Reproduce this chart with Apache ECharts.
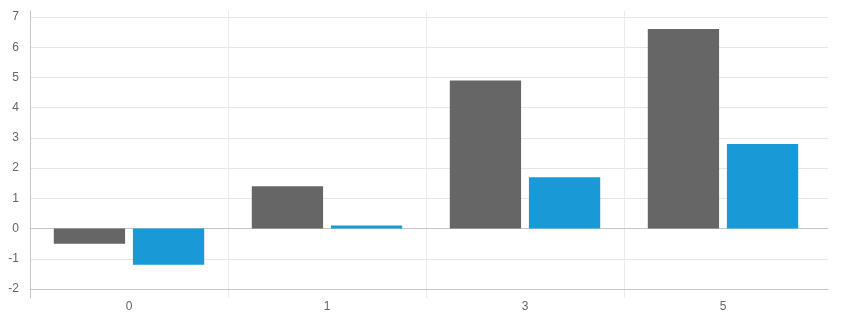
<!DOCTYPE html>
<html>
<head>
<meta charset="utf-8">
<script src="https://cdn.jsdelivr.net/npm/echarts@6/dist/echarts.min.js"></script>
<style>html,body{margin:0;padding:0;background:#fff}#c{width:842px;height:321px}</style>
</head>
<body>
<div id="c"></div>
<script>
var categories = ['0', '1', '3', '5'];
var seriesA = [-0.5, 1.4, 4.9, 6.6];
var seriesB = [-1.2, 0.1, 1.7, 2.8];
var yTicks = [-2, -1, 0, 1, 2, 3, 4, 5, 6, 7];

var yMin = yTicks[0], yMax = yTicks[yTicks.length - 1];
// grid geometry (pixels)
var G1 = { left: 30, right: 14, top: 17, bottom: 32 };
var extTop = 6, extBottom = 9;
var plotH = 321 - G1.top - G1.bottom;
var pxPerUnit = plotH / (yMax - yMin);

var chart = echarts.init(document.getElementById('c'));
var font = 'Liberation Sans, Arial, Helvetica, sans-serif';
var axisDark = '#c6c6c6';
var gridLight = '#e6e6e6';

chart.setOption({
  animation: false,
  grid: [
    { left: G1.left, right: G1.right, top: G1.top, bottom: G1.bottom },
    { left: G1.left, right: 20, top: G1.top - extTop, bottom: G1.bottom - extBottom }
  ],
  xAxis: [{
    gridIndex: 0, type: 'value', position: 'top',
    axisLine: { show: true, onZero: true, lineStyle: { color: axisDark } },
    axisTick: { show: false }, axisLabel: { show: false }, splitLine: { show: false }
  }, {
    gridIndex: 0, type: 'value', position: 'bottom',
    axisLine: { show: true, onZero: false, lineStyle: { color: axisDark } },
    axisTick: { show: false }, axisLabel: { show: false }, splitLine: { show: false }
  }, {
    gridIndex: 1, type: 'category', data: categories, boundaryGap: true,
    axisLine: { show: false },
    axisTick: { show: false },
    axisLabel: { color: '#666', fontSize: 12, fontFamily: font, margin: 3 },
    splitLine: { show: true, showMinLine: false, showMaxLine: false, lineStyle: { color: '#ebebeb' } }
  }],
  yAxis: [{
    gridIndex: 0, type: 'value', min: yMin, max: yMax, interval: 1,
    axisLine: { show: false },
    axisTick: { show: false },
    axisLabel: { color: '#666', fontSize: 12, fontFamily: font, margin: 11 },
    splitLine: { show: true, lineStyle: { color: gridLight } }
  }, {
    gridIndex: 1, type: 'value',
    min: yMin - extBottom / pxPerUnit, max: yMax + extTop / pxPerUnit,
    axisLine: { show: true, onZero: false, lineStyle: { color: axisDark } },
    axisTick: { show: false }, axisLabel: { show: false }, splitLine: { show: false }
  }],
  series: [{
    type: 'bar', xAxisIndex: 2, yAxisIndex: 1,
    data: seriesA, barWidth: '36%', barGap: '11%',
    itemStyle: { color: '#666666' }
  }, {
    type: 'bar', xAxisIndex: 2, yAxisIndex: 1,
    data: seriesB, barWidth: '36%', barGap: '11%',
    itemStyle: { color: '#1999d5' }
  }]
});
</script>
</body>
</html>
